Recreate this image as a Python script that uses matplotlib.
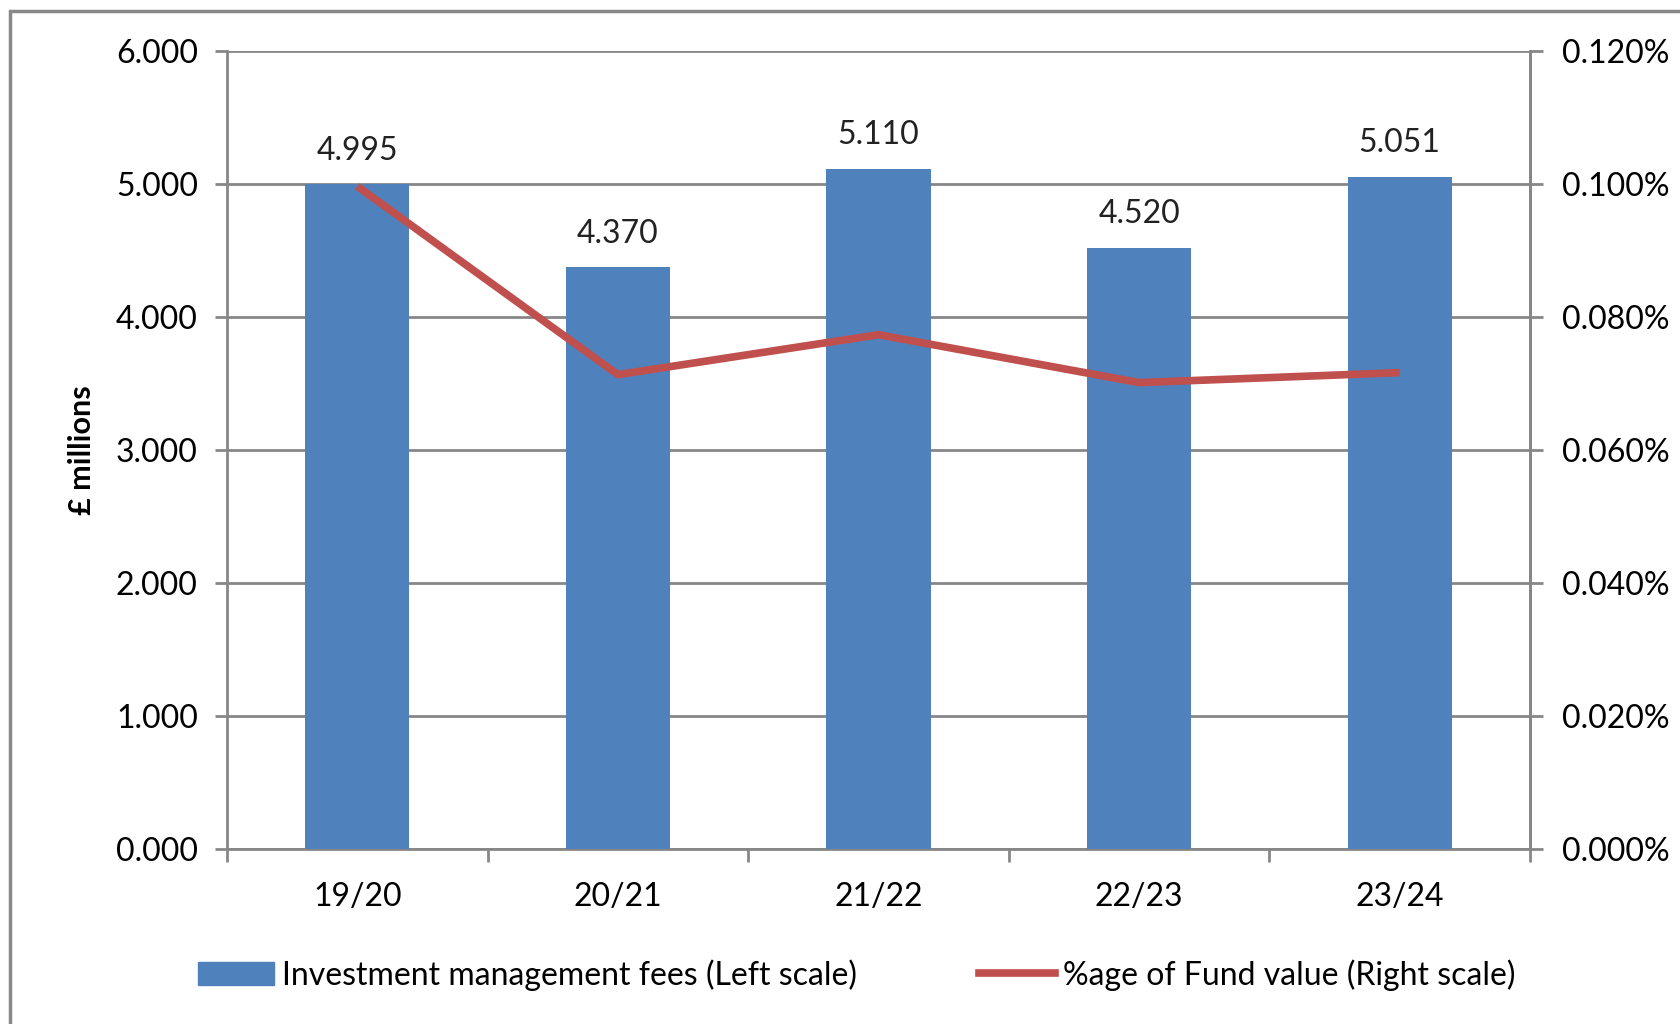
import matplotlib.pyplot as plt
from matplotlib.patches import Rectangle
from matplotlib.lines import Line2D
import numpy as np

plt.rcParams['font.family'] = ['Lato', 'DejaVu Sans']

years = ['19/20', '20/21', '21/22', '22/23', '23/24']
fees = [4.995, 4.370, 5.110, 4.520, 5.051]          # £ millions
pct_fund = [0.0996, 0.0713, 0.0773, 0.0701, 0.0716]  # % of fund value
fee_labels = ['4.995', '4.370', '5.110', '4.520', '5.051']

bar_col = '#4F81BD'
line_col = '#C0504D'
grey = '#878787'
fs = 23

fig = plt.figure(figsize=(16.8, 10.24), dpi=100)

# outer chart frame
fig.patches.append(Rectangle((10/1680, -0.1), 1.2, 1 - 11/1024 + 0.1,
                             transform=fig.transFigure, fill=False,
                             edgecolor=grey, linewidth=2.5))

ax = fig.add_axes([227/1680, 1 - 849/1024, 1303/1680, (849 - 50.6)/1024])
x = np.arange(len(years))

ax.bar(x, fees, width=0.40, color=bar_col, zorder=3)
for xi, v, lab in zip(x, fees, fee_labels):
    ax.text(xi, v + 0.14, lab, ha='center', va='bottom', fontsize=fs, color='#222222')

ax.set_xlim(-0.5, len(years) - 0.5)
ax.set_ylim(0, 6)
ax.set_yticks(np.arange(0, 7, 1))
ax.set_yticklabels([f'{v:.3f}' for v in np.arange(0, 7, 1)])
ax.set_xticks(x)
ax.set_xticklabels(years)
ax.set_xticks(np.arange(-0.5, len(years)), minor=True)
ax.tick_params(axis='x', which='major', length=0, pad=24, labelsize=fs)
ax.tick_params(axis='x', which='minor', length=9, width=2, color=grey, direction='out')
ax.tick_params(axis='y', length=9, width=2, color=grey, direction='out', pad=12, labelsize=fs)
ax.grid(axis='y', color=grey, linewidth=2, zorder=0)
ax.spines['top'].set_visible(False)
for s in ['left', 'bottom', 'right']:
    ax.spines[s].set_color(grey)
    ax.spines[s].set_linewidth(2)
ax.set_ylabel('£ millions', fontsize=22, fontweight='bold', labelpad=14)

ax2 = ax.twinx()
ax2.plot(x, pct_fund, color=line_col, linewidth=5.5, zorder=4, solid_capstyle='butt')
ax2.set_ylim(0, 0.12)
ax2.set_yticks(np.arange(0, 0.121, 0.02))
ax2.set_yticklabels([f'{v:.3f}%' for v in np.arange(0, 0.121, 0.02)])
ax2.tick_params(axis='y', length=9, width=2, color=grey, direction='out', pad=14, labelsize=fs)
for s in ['top', 'left', 'bottom']:
    ax2.spines[s].set_visible(False)
ax2.spines['right'].set_color(grey)
ax2.spines['right'].set_linewidth(2)

handles = [Rectangle((0, 0), 1, 1, color=bar_col),
           Line2D([0], [0], color=line_col, linewidth=5.5)]
fig.legend(handles, ['Investment management fees (Left scale)',
                     '%age of Fund value (Right scale)'],
           loc='center', bbox_to_anchor=(0.51, 0.048), ncol=2, frameon=False,
           fontsize=fs, handlelength=2.4, handletextpad=0.25, columnspacing=3.8)

fig.savefig('out.png', dpi=100)
